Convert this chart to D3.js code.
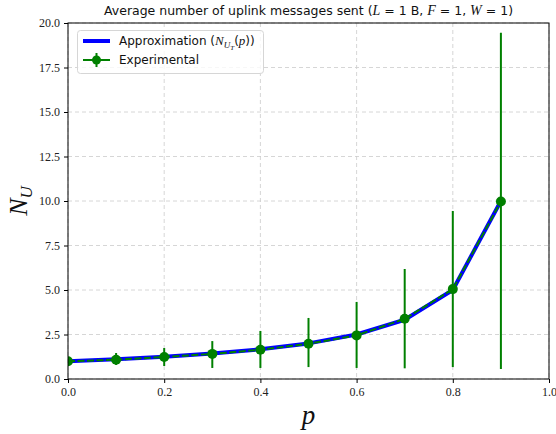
<!DOCTYPE html>
<html><head><meta charset="utf-8">
<script src="https://cdn.jsdelivr.net/npm/d3@7"></script>
<style>body{margin:0;background:#fff}svg{display:block}</style>
</head><body>
<svg id="c" width="556" height="434"></svg>
<script>
const pValues = [0.0, 0.1, 0.2, 0.3, 0.4, 0.5, 0.6, 0.7, 0.8, 0.9];
const approxValues = [1.0, 1.11, 1.25, 1.43, 1.67, 2.0, 2.5, 3.33, 5.0, 10.0];
const expValues = [1.0, 1.08, 1.24, 1.41, 1.64, 1.98, 2.45, 3.38, 5.05, 9.97];
const expLower = [0.9, 0.79, 0.73, 0.62, 0.62, 0.67, 0.62, 0.6, 0.67, 0.56];
const expUpper = [1.1, 1.46, 1.74, 2.13, 2.7, 3.43, 4.33, 6.18, 9.44, 19.45];
const xTicks = [0.0, 0.2, 0.4, 0.6, 0.8, 1.0];
const yTicks = [0.0, 2.5, 5.0, 7.5, 10.0, 12.5, 15.0, 17.5, 20.0];

const svg = d3.select("#c");
const L = 68, R = 549, T = 23, B = 379;
const x = d3.scaleLinear().domain([0, 1]).range([L, R]);
const y = d3.scaleLinear().domain([0, 20]).range([B, T]);
const serif = "'Liberation Serif', 'DejaVu Serif', serif";
const sans = "'DejaVu Sans', sans-serif";

// grid
const g = svg.append("g");
g.selectAll("line.gx").data(xTicks).enter().append("line")
  .attr("x1", d => x(d)).attr("x2", d => x(d)).attr("y1", T).attr("y2", B)
  .attr("stroke", "#cccccc").attr("stroke-width", 0.8).attr("stroke-dasharray", "4,3");
g.selectAll("line.gy").data(yTicks).enter().append("line")
  .attr("y1", d => y(d)).attr("y2", d => y(d)).attr("x1", L).attr("x2", R)
  .attr("stroke", "#cccccc").attr("stroke-width", 0.8).attr("stroke-dasharray", "4,3");

// axes
const xAxis = d3.axisBottom(x).tickValues(xTicks).tickFormat(d3.format(".1f")).tickSizeOuter(0).tickSize(4).tickPadding(4);
const yAxis = d3.axisLeft(y).tickValues(yTicks).tickFormat(d3.format(".1f")).tickSizeOuter(0).tickSize(4).tickPadding(4);
const ax = svg.append("g").attr("transform", `translate(0,${B})`).call(xAxis);
const ay = svg.append("g").attr("transform", `translate(${L},0)`).call(yAxis);
[ax, ay].forEach(a => {
  a.select(".domain").remove();
  a.selectAll("text").attr("font-family", serif).attr("font-size", 12).attr("fill", "#222");
  a.selectAll("line").attr("stroke", "#000");
});

// clip
svg.append("clipPath").attr("id", "clip").append("rect").attr("x", L).attr("y", T).attr("width", R - L).attr("height", B - T);
const plot = svg.append("g").attr("clip-path", "url(#clip)");

// approximation
const line = d3.line().x((d, i) => x(pValues[i])).y(d => y(d));
plot.append("path").datum(approxValues).attr("d", line)
  .attr("fill", "none").attr("stroke", "#0000ff").attr("stroke-width", 4).attr("stroke-linejoin", "round");

// error bars
plot.selectAll("line.err").data(pValues).enter().append("line")
  .attr("x1", d => x(d)).attr("x2", d => x(d))
  .attr("y1", (d, i) => y(expLower[i])).attr("y2", (d, i) => y(expUpper[i]))
  .attr("stroke", "#008000").attr("stroke-width", 2);

plot.append("path").datum(expValues).attr("d", line)
  .attr("fill", "none").attr("stroke", "#008000").attr("stroke-width", 2).attr("stroke-dasharray", "7,2.5");

plot.selectAll("circle").data(expValues).enter().append("circle")
  .attr("cx", (d, i) => x(pValues[i])).attr("cy", d => y(d)).attr("r", 5).attr("fill", "#008000");

// frame
svg.append("rect").attr("x", L).attr("y", T).attr("width", R - L).attr("height", B - T)
  .attr("fill", "none").attr("stroke", "#000").attr("stroke-width", 1);

// legend
const lg = svg.append("g");
lg.append("rect").attr("x", 77.5).attr("y", 30.5).attr("width", 186).attr("height", 43).attr("rx", 3)
  .attr("fill", "#fff").attr("fill-opacity", 0.8).attr("stroke", "#d6d6d6").attr("stroke-width", 1);
lg.append("line").attr("x1", 83).attr("x2", 110).attr("y1", 41).attr("y2", 41).attr("stroke", "#0000ff").attr("stroke-width", 4);
lg.append("line").attr("x1", 83).attr("x2", 110).attr("y1", 60).attr("y2", 60).attr("stroke", "#008000").attr("stroke-width", 2);
lg.append("line").attr("x1", 96.5).attr("x2", 96.5).attr("y1", 53).attr("y2", 67).attr("stroke", "#008000").attr("stroke-width", 2);
lg.append("circle").attr("cx", 96.5).attr("cy", 60).attr("r", 4.5).attr("fill", "#008000");
const t1 = lg.append("text").attr("x", 119).attr("y", 45).attr("font-family", sans).attr("font-size", 12).attr("fill", "#111");
t1.append("tspan").text("Approximation (");
t1.append("tspan").attr("font-family", serif).attr("font-style", "italic").attr("font-size", 13).text("N");
t1.append("tspan").attr("font-family", serif).attr("font-style", "italic").attr("font-size", 9).attr("dy", 3).text("U");
t1.append("tspan").attr("font-family", serif).attr("font-style", "italic").attr("font-size", 7).attr("dy", 2).text("T");
t1.append("tspan").attr("dy", -5).text("(");
t1.append("tspan").attr("font-family", serif).attr("font-style", "italic").attr("font-size", 13).text("p");
t1.append("tspan").text("))");
lg.append("text").attr("x", 119).attr("y", 64).attr("font-family", sans).attr("font-size", 12).attr("fill", "#111").text("Experimental");

// title
const tt = svg.append("text").attr("x", (L + R) / 2).attr("y", 15).attr("text-anchor", "middle")
  .attr("font-family", sans).attr("font-size", 12.5).attr("fill", "#111");
tt.append("tspan").text("Average number of uplink messages sent (");
tt.append("tspan").attr("font-family", serif).attr("font-style", "italic").attr("font-size", 14).text("L");
tt.append("tspan").text(" = 1 B, ");
tt.append("tspan").attr("font-family", serif).attr("font-style", "italic").attr("font-size", 14).text("F");
tt.append("tspan").text(" = 1, ");
tt.append("tspan").attr("font-family", serif).attr("font-style", "italic").attr("font-size", 14).text("W");
tt.append("tspan").text(" = 1)");

// axis labels
svg.append("text").attr("x", (L + R) / 2).attr("y", 424).attr("text-anchor", "middle")
  .attr("font-family", serif).attr("font-style", "italic").attr("font-size", 27).attr("fill", "#111").text("p");
const yl = svg.append("text").attr("transform", `translate(27,${(T + B) / 2}) rotate(-90)`).attr("text-anchor", "middle")
  .attr("font-family", serif).attr("font-style", "italic").attr("font-size", 26).attr("fill", "#111");
yl.append("tspan").text("N");
yl.append("tspan").attr("font-size", 17).attr("dy", 5).text("U");
</script>
</body></html>
